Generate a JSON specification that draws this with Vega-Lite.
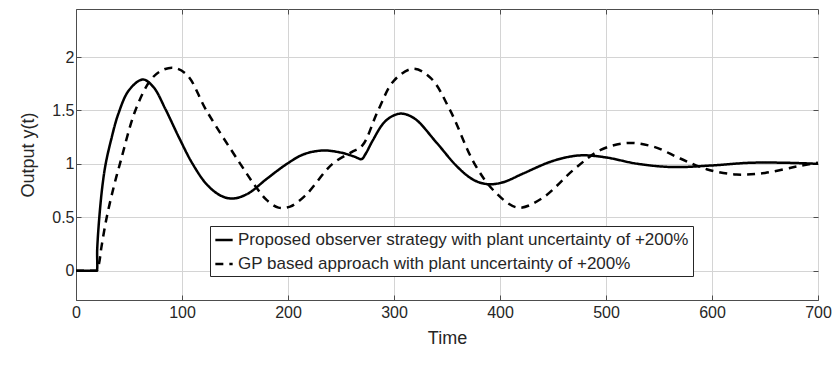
{
  "$schema": "https://vega.github.io/schema/vega-lite/v6.json",
  "autosize": "none",
  "width": 742,
  "height": 291,
  "padding": {"left": 76, "top": 9, "right": 15, "bottom": 65},
  "background": "white",
  "config": {
    "font": "Liberation Sans",
    "view": {"stroke": "#4d4d4d", "strokeWidth": 1},
    "axis": {
      "labelFont": "Liberation Sans",
      "titleFont": "Liberation Sans",
      "labelFontSize": 16,
      "titleFontSize": 18,
      "labelColor": "#262626",
      "titleColor": "#262626",
      "titleFontWeight": "normal",
      "domainColor": "#4d4d4d",
      "tickColor": "#4d4d4d",
      "tickSize": -5,
      "gridColor": "#d4d4d4",
      "gridWidth": 1
    }
  },
  "data": {
    "values": [
      {"t": 0, "y": 0, "s": "Proposed observer strategy with plant uncertainty of +200%"},
      {"t": 10, "y": 0, "s": "Proposed observer strategy with plant uncertainty of +200%"},
      {"t": 17, "y": 0, "s": "Proposed observer strategy with plant uncertainty of +200%"},
      {"t": 19, "y": 0, "s": "Proposed observer strategy with plant uncertainty of +200%"},
      {"t": 19.6, "y": 0, "s": "Proposed observer strategy with plant uncertainty of +200%"},
      {"t": 20, "y": 0.2, "s": "Proposed observer strategy with plant uncertainty of +200%"},
      {"t": 22, "y": 0.5, "s": "Proposed observer strategy with plant uncertainty of +200%"},
      {"t": 25, "y": 0.8, "s": "Proposed observer strategy with plant uncertainty of +200%"},
      {"t": 28, "y": 1.0, "s": "Proposed observer strategy with plant uncertainty of +200%"},
      {"t": 33, "y": 1.22, "s": "Proposed observer strategy with plant uncertainty of +200%"},
      {"t": 40, "y": 1.47, "s": "Proposed observer strategy with plant uncertainty of +200%"},
      {"t": 50, "y": 1.69, "s": "Proposed observer strategy with plant uncertainty of +200%"},
      {"t": 63, "y": 1.79, "s": "Proposed observer strategy with plant uncertainty of +200%"},
      {"t": 73, "y": 1.72, "s": "Proposed observer strategy with plant uncertainty of +200%"},
      {"t": 84, "y": 1.52, "s": "Proposed observer strategy with plant uncertainty of +200%"},
      {"t": 97, "y": 1.25, "s": "Proposed observer strategy with plant uncertainty of +200%"},
      {"t": 110, "y": 1.0, "s": "Proposed observer strategy with plant uncertainty of +200%"},
      {"t": 124, "y": 0.8, "s": "Proposed observer strategy with plant uncertainty of +200%"},
      {"t": 137, "y": 0.7, "s": "Proposed observer strategy with plant uncertainty of +200%"},
      {"t": 148, "y": 0.675, "s": "Proposed observer strategy with plant uncertainty of +200%"},
      {"t": 162, "y": 0.72, "s": "Proposed observer strategy with plant uncertainty of +200%"},
      {"t": 180, "y": 0.86, "s": "Proposed observer strategy with plant uncertainty of +200%"},
      {"t": 199, "y": 1.0, "s": "Proposed observer strategy with plant uncertainty of +200%"},
      {"t": 215, "y": 1.09, "s": "Proposed observer strategy with plant uncertainty of +200%"},
      {"t": 233, "y": 1.125, "s": "Proposed observer strategy with plant uncertainty of +200%"},
      {"t": 250, "y": 1.105, "s": "Proposed observer strategy with plant uncertainty of +200%"},
      {"t": 262, "y": 1.07, "s": "Proposed observer strategy with plant uncertainty of +200%"},
      {"t": 269.5, "y": 1.045, "s": "Proposed observer strategy with plant uncertainty of +200%"},
      {"t": 273, "y": 1.09, "s": "Proposed observer strategy with plant uncertainty of +200%"},
      {"t": 280, "y": 1.22, "s": "Proposed observer strategy with plant uncertainty of +200%"},
      {"t": 290, "y": 1.38, "s": "Proposed observer strategy with plant uncertainty of +200%"},
      {"t": 299, "y": 1.45, "s": "Proposed observer strategy with plant uncertainty of +200%"},
      {"t": 308, "y": 1.47, "s": "Proposed observer strategy with plant uncertainty of +200%"},
      {"t": 320, "y": 1.42, "s": "Proposed observer strategy with plant uncertainty of +200%"},
      {"t": 340, "y": 1.2, "s": "Proposed observer strategy with plant uncertainty of +200%"},
      {"t": 360, "y": 0.97, "s": "Proposed observer strategy with plant uncertainty of +200%"},
      {"t": 375, "y": 0.85, "s": "Proposed observer strategy with plant uncertainty of +200%"},
      {"t": 388, "y": 0.81, "s": "Proposed observer strategy with plant uncertainty of +200%"},
      {"t": 402, "y": 0.825, "s": "Proposed observer strategy with plant uncertainty of +200%"},
      {"t": 422, "y": 0.91, "s": "Proposed observer strategy with plant uncertainty of +200%"},
      {"t": 445, "y": 1.01, "s": "Proposed observer strategy with plant uncertainty of +200%"},
      {"t": 462, "y": 1.06, "s": "Proposed observer strategy with plant uncertainty of +200%"},
      {"t": 478, "y": 1.08, "s": "Proposed observer strategy with plant uncertainty of +200%"},
      {"t": 500, "y": 1.06, "s": "Proposed observer strategy with plant uncertainty of +200%"},
      {"t": 530, "y": 1.0, "s": "Proposed observer strategy with plant uncertainty of +200%"},
      {"t": 563, "y": 0.97, "s": "Proposed observer strategy with plant uncertainty of +200%"},
      {"t": 600, "y": 0.985, "s": "Proposed observer strategy with plant uncertainty of +200%"},
      {"t": 636, "y": 1.01, "s": "Proposed observer strategy with plant uncertainty of +200%"},
      {"t": 670, "y": 1.01, "s": "Proposed observer strategy with plant uncertainty of +200%"},
      {"t": 700, "y": 1.0, "s": "Proposed observer strategy with plant uncertainty of +200%"},
      {"t": 0, "y": 0, "s": "GP based approach with plant uncertainty of +200%"},
      {"t": 10, "y": 0, "s": "GP based approach with plant uncertainty of +200%"},
      {"t": 17, "y": 0, "s": "GP based approach with plant uncertainty of +200%"},
      {"t": 19, "y": 0, "s": "GP based approach with plant uncertainty of +200%"},
      {"t": 20, "y": 0, "s": "GP based approach with plant uncertainty of +200%"},
      {"t": 22, "y": 0.08, "s": "GP based approach with plant uncertainty of +200%"},
      {"t": 24, "y": 0.22, "s": "GP based approach with plant uncertainty of +200%"},
      {"t": 29, "y": 0.5, "s": "GP based approach with plant uncertainty of +200%"},
      {"t": 36, "y": 0.8, "s": "GP based approach with plant uncertainty of +200%"},
      {"t": 42, "y": 1.02, "s": "GP based approach with plant uncertainty of +200%"},
      {"t": 56, "y": 1.5, "s": "GP based approach with plant uncertainty of +200%"},
      {"t": 70, "y": 1.78, "s": "GP based approach with plant uncertainty of +200%"},
      {"t": 80, "y": 1.87, "s": "GP based approach with plant uncertainty of +200%"},
      {"t": 92, "y": 1.9, "s": "GP based approach with plant uncertainty of +200%"},
      {"t": 105, "y": 1.83, "s": "GP based approach with plant uncertainty of +200%"},
      {"t": 123, "y": 1.5, "s": "GP based approach with plant uncertainty of +200%"},
      {"t": 155, "y": 1.0, "s": "GP based approach with plant uncertainty of +200%"},
      {"t": 170, "y": 0.78, "s": "GP based approach with plant uncertainty of +200%"},
      {"t": 180, "y": 0.66, "s": "GP based approach with plant uncertainty of +200%"},
      {"t": 191, "y": 0.59, "s": "GP based approach with plant uncertainty of +200%"},
      {"t": 202, "y": 0.6, "s": "GP based approach with plant uncertainty of +200%"},
      {"t": 216, "y": 0.7, "s": "GP based approach with plant uncertainty of +200%"},
      {"t": 242, "y": 1.0, "s": "GP based approach with plant uncertainty of +200%"},
      {"t": 260, "y": 1.11, "s": "GP based approach with plant uncertainty of +200%"},
      {"t": 270, "y": 1.17, "s": "GP based approach with plant uncertainty of +200%"},
      {"t": 285, "y": 1.5, "s": "GP based approach with plant uncertainty of +200%"},
      {"t": 300, "y": 1.78, "s": "GP based approach with plant uncertainty of +200%"},
      {"t": 318, "y": 1.89, "s": "GP based approach with plant uncertainty of +200%"},
      {"t": 335, "y": 1.8, "s": "GP based approach with plant uncertainty of +200%"},
      {"t": 353, "y": 1.5, "s": "GP based approach with plant uncertainty of +200%"},
      {"t": 376, "y": 1.0, "s": "GP based approach with plant uncertainty of +200%"},
      {"t": 395, "y": 0.74, "s": "GP based approach with plant uncertainty of +200%"},
      {"t": 417, "y": 0.59, "s": "GP based approach with plant uncertainty of +200%"},
      {"t": 440, "y": 0.68, "s": "GP based approach with plant uncertainty of +200%"},
      {"t": 470, "y": 0.95, "s": "GP based approach with plant uncertainty of +200%"},
      {"t": 495, "y": 1.13, "s": "GP based approach with plant uncertainty of +200%"},
      {"t": 520, "y": 1.195, "s": "GP based approach with plant uncertainty of +200%"},
      {"t": 545, "y": 1.16, "s": "GP based approach with plant uncertainty of +200%"},
      {"t": 570, "y": 1.05, "s": "GP based approach with plant uncertainty of +200%"},
      {"t": 595, "y": 0.95, "s": "GP based approach with plant uncertainty of +200%"},
      {"t": 623, "y": 0.9, "s": "GP based approach with plant uncertainty of +200%"},
      {"t": 650, "y": 0.915, "s": "GP based approach with plant uncertainty of +200%"},
      {"t": 680, "y": 0.975, "s": "GP based approach with plant uncertainty of +200%"},
      {"t": 700, "y": 1.01, "s": "GP based approach with plant uncertainty of +200%"}
    ]
  },
  "layer": [
    {
      "mark": {"type": "line", "color": "black", "strokeWidth": 2.5, "interpolate": "catmull-rom"},
      "encoding": {
        "x": {
          "field": "t", "type": "quantitative",
          "scale": {"domain": [0, 700], "nice": false, "zero": false},
          "axis": {"title": "Time", "values": [0, 100, 200, 300, 400, 500, 600, 700], "labelPadding": 9, "titlePadding": 9, "labelFlush": false}
        },
        "y": {
          "field": "y", "type": "quantitative",
          "scale": {"domain": [-0.275, 2.45], "nice": false, "zero": false},
          "axis": {"title": "Output y(t)", "values": [0, 0.5, 1, 1.5, 2], "format": "~g", "labelPadding": 7, "titlePadding": 14, "labelFlush": false}
        },
        "strokeDash": {
          "field": "s", "type": "nominal",
          "scale": {
            "domain": ["Proposed observer strategy with plant uncertainty of +200%", "GP based approach with plant uncertainty of +200%"],
            "range": [[1, 0], [8, 6]]
          },
          "legend": {
            "title": null,
            "orient": "none",
            "legendX": 134,
            "legendY": 217,
            "strokeColor": "#262626",
            "fillColor": "white",
            "padding": 4,
            "symbolType": "stroke",
            "symbolSize": 300,
            "symbolStrokeWidth": 2.5,
            "symbolStrokeColor": "black",
            "labelFont": "Liberation Sans",
            "labelFontSize": 17,
            "labelColor": "#262626",
            "labelLimit": 600,
            "rowPadding": 6,
            "symbolOffset": 0,
            "labelOffset": 4
          }
        }
      }
    },
    {
      "mark": {"type": "point", "opacity": 0},
      "encoding": {
        "x": {"field": "t", "type": "quantitative", "axis": {"orient": "top", "title": null, "labels": false, "grid": false, "domain": false, "values": [0, 100, 200, 300, 400, 500, 600, 700]}},
        "y": {"field": "y", "type": "quantitative", "axis": {"orient": "right", "title": null, "labels": false, "grid": false, "domain": false, "values": [0, 0.5, 1, 1.5, 2]}}
      }
    }
  ],
  "resolve": {"axis": {"x": "independent", "y": "independent"}}
}
